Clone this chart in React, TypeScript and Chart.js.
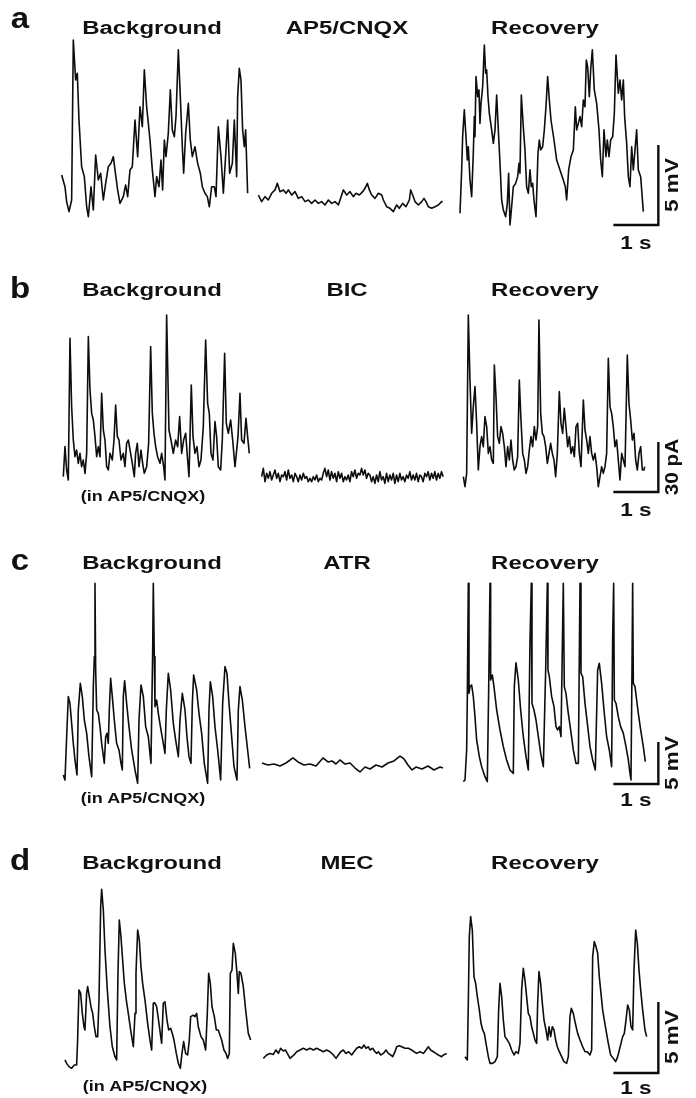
import React, { useEffect, useRef } from "react";
import { Chart, registerables } from "chart.js";
Chart.register(...registerables);

type Pt = [number, number];

// ---- Panel a (mV) ----
const bgA: Pt[] = [[0.037,2.81],[0.111,2.08],[0.148,1.15],[0.2,0.52],[0.259,1.25],[0.296,11.25],[0.348,8.75],[0.385,9.17],[0.422,6.25],[0.481,3.33],[0.541,2.71],[0.593,0.83],[0.63,0.21],[0.689,2.08],[0.741,0.63],[0.793,4.06],[0.852,2.5],[0.904,2.92],[0.963,1.25],[1.015,2.29],[1.074,3.33],[1.133,3.54],[1.185,3.96],[1.222,3.13],[1.281,1.88],[1.333,1.04],[1.407,1.46],[1.459,2.19],[1.504,1.46],[1.556,3.13],[1.607,3.33],[1.667,6.25],[1.726,3.96],[1.778,7.08],[1.83,5.83],[1.874,9.38],[1.926,7.08],[2.0,5.0],[2.052,3.13],[2.111,1.46],[2.148,2.71],[2.2,2.08],[2.244,3.75],[2.281,1.88],[2.319,5.0],[2.356,3.96],[2.407,5.42],[2.452,8.13],[2.496,5.63],[2.541,5.21],[2.578,6.46],[2.63,10.63],[2.674,7.71],[2.719,4.58],[2.748,2.92],[2.793,5.42],[2.852,7.29],[2.896,5.0],[2.941,3.96],[3.0,4.58],[3.059,3.54],[3.119,2.92],[3.163,2.08],[3.222,1.67],[3.274,1.46],[3.319,0.83],[3.37,2.08],[3.43,2.08],[3.467,1.46],[3.519,5.83],[3.578,3.96],[3.63,1.67],[3.689,4.38],[3.726,6.25],[3.77,2.92],[3.83,3.54],[3.874,6.25],[3.926,2.71],[3.948,7.71],[3.985,9.48],[4.022,8.75],[4.059,5.63],[4.096,4.58],[4.126,5.63],[4.17,1.67]];
const ap5A: Pt[] = [[0,1.56],[0.074,1.15],[0.148,1.46],[0.222,1.25],[0.296,1.67],[0.37,1.88],[0.422,2.29],[0.481,1.77],[0.556,1.88],[0.615,1.67],[0.667,1.88],[0.741,1.56],[0.815,1.77],[0.889,1.35],[0.963,1.46],[1.037,1.15],[1.111,1.25],[1.185,1.04],[1.259,1.25],[1.333,1.04],[1.407,1.15],[1.481,0.94],[1.556,1.25],[1.63,1.04],[1.704,1.15],[1.778,0.94],[1.852,1.56],[1.889,1.88],[1.963,1.56],[2.037,1.77],[2.111,1.46],[2.17,1.67],[2.244,1.56],[2.319,1.77],[2.37,1.98],[2.422,2.29],[2.467,1.88],[2.519,1.56],[2.593,1.35],[2.667,1.67],[2.741,1.56],[2.778,1.25],[2.852,0.83],[2.926,0.73],[3.0,0.52],[3.074,0.94],[3.133,0.73],[3.207,1.04],[3.281,0.83],[3.356,1.25],[3.385,1.88],[3.43,1.56],[3.481,1.15],[3.556,0.94],[3.63,1.15],[3.681,1.35],[3.726,1.15],[3.778,0.83],[3.852,0.73],[3.926,0.83],[4.0,0.94],[4.074,1.15],[4.096,1.15]];
const recA: Pt[] = [[0,0.42],[0.037,3.13],[0.059,5.21],[0.096,6.88],[0.133,5.21],[0.163,3.75],[0.185,4.58],[0.222,2.5],[0.259,1.46],[0.296,4.17],[0.319,6.46],[0.333,5.21],[0.356,8.96],[0.393,7.71],[0.422,8.13],[0.444,6.04],[0.467,7.29],[0.504,8.33],[0.541,10.94],[0.57,9.17],[0.593,9.38],[0.622,7.71],[0.652,6.67],[0.704,5.63],[0.741,4.79],[0.778,5.63],[0.815,7.81],[0.852,5.63],[0.889,3.54],[0.926,1.25],[0.963,0.63],[1.015,0.21],[1.052,1.04],[1.081,2.92],[1.111,-0.31],[1.148,0.83],[1.185,2.08],[1.237,2.29],[1.281,2.71],[1.311,3.54],[1.333,2.92],[1.363,7.81],[1.407,5.83],[1.444,4.38],[1.481,2.08],[1.519,1.67],[1.556,3.13],[1.585,2.08],[1.615,2.29],[1.644,1.25],[1.689,0.21],[1.733,4.17],[1.763,5.0],[1.793,4.38],[1.837,4.58],[1.874,5.63],[1.911,7.08],[1.948,8.96],[1.985,7.5],[2.022,6.25],[2.089,5.0],[2.148,3.75],[2.222,3.13],[2.296,2.5],[2.341,2.08],[2.37,1.25],[2.415,3.13],[2.467,3.96],[2.519,4.38],[2.563,7.08],[2.593,5.63],[2.63,6.04],[2.667,6.46],[2.704,5.83],[2.741,7.5],[2.778,7.08],[2.807,10.0],[2.837,9.58],[2.874,7.71],[2.904,9.38],[2.941,10.63],[2.985,8.13],[3.037,7.29],[3.089,5.63],[3.126,3.75],[3.163,2.71],[3.2,5.63],[3.244,3.96],[3.274,5.0],[3.311,3.96],[3.348,5.0],[3.393,5.21],[3.43,6.67],[3.467,10.31],[3.519,7.92],[3.556,8.75],[3.593,7.5],[3.63,8.75],[3.659,6.46],[3.704,4.79],[3.741,2.71],[3.778,2.08],[3.815,4.58],[3.852,3.13],[3.889,4.38],[3.926,5.63],[3.963,3.13],[4.015,2.71],[4.074,0.52]];

// ---- Panel b (pA) ----
const bgB: Pt[] = [[0.037,8],[0.074,26],[0.111,12],[0.148,6],[0.185,91],[0.222,50],[0.259,30],[0.296,20],[0.333,24],[0.37,16],[0.407,22],[0.444,14],[0.481,18],[0.519,10],[0.556,22],[0.593,92],[0.63,60],[0.667,46],[0.704,42],[0.741,32],[0.778,20],[0.815,26],[0.852,20],[0.889,58],[0.926,36],[0.963,30],[1.0,14],[1.037,12],[1.074,22],[1.126,18],[1.163,30],[1.2,51],[1.237,32],[1.274,30],[1.319,18],[1.37,22],[1.407,14],[1.444,28],[1.481,30],[1.533,22],[1.57,16],[1.615,8],[1.644,22],[1.681,28],[1.719,14],[1.763,24],[1.8,16],[1.837,10],[1.889,14],[1.933,28],[1.978,86],[2.015,46],[2.052,34],[2.089,26],[2.133,20],[2.185,16],[2.222,22],[2.267,14],[2.296,6],[2.333,105],[2.385,36],[2.43,30],[2.481,22],[2.533,30],[2.578,26],[2.622,44],[2.667,22],[2.711,30],[2.756,34],[2.8,18],[2.83,8],[2.881,63],[2.919,32],[2.963,22],[3.007,26],[3.052,14],[3.096,18],[3.148,38],[3.2,90],[3.244,52],[3.281,46],[3.319,22],[3.363,18],[3.407,41],[3.444,32],[3.481,14],[3.533,12],[3.57,30],[3.622,82],[3.659,40],[3.704,34],[3.756,42],[3.8,30],[3.852,14],[3.919,32],[3.963,58],[4.0,30],[4.052,28],[4.096,43],[4.133,32],[4.17,22]];
const BIC_DT = 0.037;
const bicB: number[] = [8,13,5,10,7,11,6,9,12,7,10,5,9,8,11,6,12,7,9,5,10,8,5,9,6,10,7,8,5,7,5,8,6,9,5,7,6,10,13,8,12,6,11,7,10,5,11,7,10,5,8,6,9,5,11,8,12,7,10,9,13,9,12,7,10,9,5,8,4,9,5,11,6,8,4,10,5,9,6,10,4,9,5,10,6,8,5,9,7,11,6,9,6,10,5,9,8,5,10,8,11,6,10,7,11,6,10,7,11,8];
const recB: Pt[] = [[0,8],[0.037,2],[0.074,10],[0.111,105],[0.148,66],[0.185,34],[0.222,50],[0.259,62],[0.296,40],[0.333,12],[0.37,26],[0.407,32],[0.444,26],[0.481,44],[0.519,38],[0.556,22],[0.593,26],[0.63,18],[0.667,16],[0.689,75],[0.726,56],[0.763,32],[0.8,28],[0.837,38],[0.874,34],[0.911,26],[0.948,14],[0.985,26],[1.022,18],[1.059,30],[1.096,18],[1.133,12],[1.17,14],[1.207,20],[1.244,66],[1.281,42],[1.319,22],[1.356,18],[1.393,10],[1.43,14],[1.467,24],[1.504,32],[1.541,26],[1.578,38],[1.615,30],[1.652,38],[1.681,102],[1.719,46],[1.756,34],[1.793,32],[1.83,26],[1.867,16],[1.904,22],[1.941,28],[1.978,22],[2.015,18],[2.052,8],[2.089,22],[2.133,59],[2.17,40],[2.207,34],[2.244,49],[2.281,38],[2.319,26],[2.356,32],[2.393,22],[2.43,26],[2.467,20],[2.504,38],[2.541,40],[2.578,22],[2.615,14],[2.667,54],[2.704,36],[2.741,30],[2.778,22],[2.815,32],[2.852,22],[2.889,18],[2.926,22],[2.963,14],[3.0,2],[3.037,8],[3.074,14],[3.111,10],[3.148,14],[3.185,22],[3.222,79],[3.259,50],[3.296,46],[3.333,38],[3.37,26],[3.407,30],[3.444,18],[3.481,6],[3.519,22],[3.556,18],[3.593,14],[3.644,81],[3.681,52],[3.719,42],[3.756,30],[3.793,34],[3.83,18],[3.867,12],[3.904,22],[3.941,26],[3.978,12],[4.015,12],[4.03,14]];

// ---- Panel c (mV) ----
const bgC: Pt[] = [[0.037,1.07],[0.074,0.48],[0.111,5.63],[0.148,10.4],[0.185,9.6],[0.222,7.22],[0.259,4.84],[0.296,2.86],[0.341,1.07],[0.37,8.81],[0.415,11.98],[0.459,10.4],[0.504,7.62],[0.556,6.03],[0.607,3.25],[0.667,0.87],[0.704,11.59],[0.726,15.16],[0.741,23.89],[0.756,13.57],[0.778,8.81],[0.815,8.41],[0.852,6.83],[0.889,4.84],[0.948,2.46],[0.978,5.63],[1.007,6.03],[1.037,4.84],[1.059,8.81],[1.089,12.58],[1.126,10.4],[1.17,7.62],[1.222,4.84],[1.274,4.05],[1.319,2.46],[1.348,1.67],[1.37,10.4],[1.4,12.3],[1.444,9.6],[1.496,6.83],[1.556,4.05],[1.63,1.67],[1.689,0.08],[1.719,7.62],[1.763,11.79],[1.815,10.4],[1.867,6.83],[1.926,5.63],[1.985,2.46],[2.022,15.56],[2.037,23.89],[2.059,15.16],[2.074,9.21],[2.111,10.0],[2.148,8.41],[2.207,6.43],[2.259,4.84],[2.296,3.65],[2.326,8.81],[2.37,13.17],[2.422,11.19],[2.481,7.22],[2.533,5.24],[2.593,3.25],[2.63,7.62],[2.681,10.79],[2.741,8.81],[2.785,5.63],[2.83,3.25],[2.874,2.46],[2.904,9.6],[2.933,12.98],[3.0,11.19],[3.052,8.41],[3.111,6.03],[3.17,2.46],[3.244,0.08],[3.274,8.81],[3.304,12.18],[3.356,10.4],[3.407,6.83],[3.467,4.05],[3.533,0.48],[3.578,9.6],[3.63,13.97],[3.674,13.17],[3.719,9.6],[3.778,5.63],[3.83,2.06],[3.896,0.48],[3.926,8.81],[3.963,11.59],[4.015,10.0],[4.074,6.83],[4.133,4.05],[4.178,1.87]];
const atrC: Pt[] = [[0,2.5],[0.133,2.26],[0.267,2.38],[0.4,2.14],[0.533,2.5],[0.689,3.1],[0.8,2.62],[0.933,2.26],[1.067,2.38],[1.2,2.14],[1.356,3.1],[1.467,2.62],[1.556,2.74],[1.644,2.38],[1.733,2.86],[1.844,2.38],[1.956,2.5],[2.067,1.9],[2.178,1.43],[2.289,2.02],[2.4,1.79],[2.533,2.26],[2.667,2.02],[2.8,2.5],[2.933,2.74],[3.067,3.33],[3.156,2.98],[3.244,2.26],[3.333,1.67],[3.422,2.02],[3.556,1.79],[3.689,2.14],[3.822,1.67],[3.956,2.02],[4.022,1.9]];
const recC: Pt[] = [[0,0.28],[0.037,0.48],[0.074,4.05],[0.089,10.4],[0.111,23.89],[0.126,10.79],[0.148,11.59],[0.185,11.79],[0.222,10.4],[0.259,8.02],[0.296,5.24],[0.356,3.25],[0.407,2.06],[0.481,0.87],[0.533,0.28],[0.563,11.19],[0.593,23.89],[0.607,12.38],[0.644,12.98],[0.681,11.59],[0.741,8.81],[0.815,6.43],[0.889,4.44],[0.963,2.86],[1.037,1.67],[1.111,1.27],[1.133,11.59],[1.17,14.44],[1.222,12.38],[1.274,8.81],[1.333,5.63],[1.393,3.25],[1.444,1.67],[1.481,16.75],[1.511,23.89],[1.526,9.6],[1.57,8.81],[1.615,7.62],[1.667,5.63],[1.719,3.65],[1.778,2.06],[1.83,13.57],[1.867,23.89],[1.881,13.57],[1.911,12.78],[1.963,10.4],[2.015,9.21],[2.059,6.83],[2.096,6.43],[2.133,6.83],[2.17,5.63],[2.193,13.57],[2.222,23.89],[2.244,11.59],[2.281,10.79],[2.333,8.41],[2.385,6.43],[2.444,4.05],[2.504,2.46],[2.556,2.46],[2.593,23.89],[2.615,13.17],[2.652,12.78],[2.704,9.6],[2.756,7.22],[2.815,4.44],[2.874,2.86],[2.933,1.67],[2.985,13.57],[3.022,14.37],[3.074,11.98],[3.126,8.81],[3.185,5.63],[3.244,4.05],[3.296,2.06],[3.319,17.54],[3.341,23.89],[3.356,10.0],[3.393,9.6],[3.444,8.02],[3.496,6.83],[3.556,6.03],[3.615,4.44],[3.667,2.86],[3.704,1.27],[3.726,0.48],[3.748,13.57],[3.763,23.89],[3.778,11.98],[3.815,11.59],[3.852,10.0],[3.889,8.41],[3.941,6.43],[4.0,4.44],[4.044,2.66]];

// ---- Panel d (mV) ----
const bgD: Pt[] = [[0,0.92],[0.037,0.68],[0.089,0.45],[0.148,0.33],[0.207,0.56],[0.259,0.56],[0.281,2.32],[0.311,5.85],[0.348,5.61],[0.385,4.2],[0.422,3.26],[0.444,3.03],[0.481,5.61],[0.504,6.08],[0.541,5.38],[0.578,4.67],[0.615,4.2],[0.652,3.26],[0.689,2.56],[0.726,2.56],[0.756,5.14],[0.793,11.71],[0.815,12.93],[0.852,11.48],[0.889,8.66],[0.941,5.85],[1.0,3.26],[1.052,1.85],[1.111,1.15],[1.148,0.92],[1.178,7.02],[1.207,10.77],[1.244,9.6],[1.281,7.96],[1.319,6.31],[1.363,5.14],[1.407,4.2],[1.459,3.03],[1.519,1.85],[1.556,4.2],[1.578,7.02],[1.615,10.07],[1.652,9.37],[1.689,7.49],[1.726,6.31],[1.778,5.14],[1.837,3.5],[1.889,2.32],[1.926,1.62],[1.963,4.91],[1.993,4.95],[2.037,4.67],[2.089,3.5],[2.148,2.09],[2.185,4.91],[2.222,5.02],[2.267,3.73],[2.304,3.03],[2.348,3.15],[2.385,2.79],[2.422,2.32],[2.474,1.38],[2.519,0.68],[2.563,0.33],[2.6,1.38],[2.637,2.21],[2.681,1.38],[2.726,1.27],[2.763,2.32],[2.793,3.97],[2.852,4.08],[2.889,3.97],[2.926,4.2],[2.963,3.26],[3.022,2.56],[3.074,2.32],[3.126,1.62],[3.163,4.2],[3.193,7.02],[3.23,6.31],[3.267,4.67],[3.319,3.97],[3.363,3.03],[3.407,3.03],[3.444,2.68],[3.481,2.32],[3.533,1.62],[3.578,1.38],[3.615,1.03],[3.652,1.38],[3.674,7.02],[3.711,7.25],[3.741,9.13],[3.785,8.43],[3.822,7.02],[3.852,5.61],[3.874,7.14],[3.911,7.02],[3.963,6.08],[4.015,4.44],[4.074,2.79],[4.126,2.32]];
const mecD: Pt[] = [[0,1.03],[0.074,1.27],[0.148,1.38],[0.222,1.31],[0.281,1.62],[0.333,1.38],[0.385,1.74],[0.444,1.55],[0.489,1.62],[0.533,1.38],[0.593,1.03],[0.637,1.15],[0.681,1.27],[0.741,1.5],[0.815,1.62],[0.889,1.74],[0.963,1.62],[1.037,1.74],[1.111,1.62],[1.185,1.74],[1.259,1.62],[1.333,1.5],[1.407,1.62],[1.481,1.5],[1.556,1.27],[1.615,1.03],[1.667,1.27],[1.719,1.5],[1.778,1.62],[1.837,1.38],[1.896,1.5],[1.963,1.27],[2.015,1.5],[2.074,1.74],[2.133,1.85],[2.185,1.74],[2.237,1.97],[2.281,1.74],[2.333,1.85],[2.37,1.62],[2.43,1.74],[2.481,1.5],[2.519,1.38],[2.556,1.5],[2.607,1.27],[2.667,1.38],[2.726,1.62],[2.778,1.38],[2.83,1.27],[2.874,1.15],[2.926,1.5],[2.963,1.85],[3.022,1.92],[3.074,1.85],[3.148,1.74],[3.222,1.74],[3.296,1.62],[3.348,1.5],[3.407,1.38],[3.481,1.5],[3.556,1.38],[3.615,1.62],[3.667,1.85],[3.719,1.62],[3.778,1.5],[3.837,1.38],[3.889,1.27],[3.963,1.15],[4.0,1.27],[4.074,1.38]];
const recD: Pt[] = [[0,1.15],[0.052,0.92],[0.074,4.91],[0.096,9.6],[0.126,11.01],[0.163,10.07],[0.2,6.78],[0.237,6.31],[0.274,5.38],[0.319,4.44],[0.356,3.5],[0.393,3.03],[0.43,2.79],[0.467,2.09],[0.519,1.15],[0.556,0.68],[0.615,0.68],[0.667,0.8],[0.719,1.15],[0.748,4.44],[0.778,6.31],[0.815,5.38],[0.852,3.73],[0.889,2.56],[0.941,2.32],[0.985,2.09],[1.037,1.62],[1.089,1.27],[1.133,1.5],[1.185,1.38],[1.222,2.09],[1.259,5.85],[1.296,7.37],[1.333,6.55],[1.37,5.38],[1.407,4.2],[1.444,3.97],[1.481,3.26],[1.519,2.79],[1.556,2.32],[1.593,2.09],[1.615,4.91],[1.644,7.14],[1.681,6.31],[1.719,4.91],[1.756,3.73],[1.8,3.03],[1.837,2.32],[1.867,3.26],[1.904,2.56],[1.941,3.26],[1.978,3.03],[2.015,2.32],[2.052,1.85],[2.096,1.5],[2.148,1.15],[2.2,0.8],[2.259,0.68],[2.296,1.15],[2.333,3.97],[2.363,4.55],[2.407,4.2],[2.452,3.5],[2.504,2.79],[2.556,2.32],[2.615,1.85],[2.667,1.5],[2.719,1.5],[2.778,1.27],[2.815,1.62],[2.837,8.19],[2.874,9.25],[2.911,8.9],[2.948,8.43],[2.985,6.78],[3.022,5.61],[3.059,4.44],[3.096,3.73],[3.133,3.03],[3.185,2.09],[3.237,1.27],[3.296,1.03],[3.348,0.8],[3.393,1.15],[3.43,1.62],[3.467,2.09],[3.504,2.56],[3.541,2.79],[3.578,3.73],[3.615,4.79],[3.652,4.44],[3.689,3.26],[3.726,3.03],[3.756,7.25],[3.793,10.07],[3.83,9.13],[3.867,7.25],[3.904,5.85],[3.948,4.44],[4.0,3.03],[4.037,2.56]];

// time at which each trace starts within its row (s)
const startsA = [1.333, 5.741, 10.222];
const startsB = [1.37, 5.815, 10.296];
const startsC = [1.37, 5.822, 10.296];
const startsD = [1.444, 5.852, 10.333];

// scale bars: 1 s and amplitude
const BAR_T0 = 13.63;
const BAR_DUR = 1;
const barAmp = [5, 30, 5, 5];
const barBase = [-0.31, -1.2, 0, 0];

const ROW_SPAN_S = 696 / 45;

type RowProps = {
  top: number; height: number; yMin: number; yMax: number;
  traces: Pt[][]; starts: number[]; amp: number; base: number;
};

function TraceRow({ top, height, yMin, yMax, traces, starts, amp, base }: RowProps) {
  const ref = useRef<HTMLCanvasElement>(null);
  useEffect(() => {
    if (!ref.current) return;
    const datasets: any[] = traces.map((pts, i) => ({
      data: pts.map(([t, v]) => ({ x: t + starts[i], y: v })),
      borderColor: "#0d0d0d",
      borderWidth: 1.6,
      pointRadius: 0,
      tension: 0,
      fill: false,
      clip: false,
      borderJoinStyle: "round",
    }));
    datasets.push({
      data: [
        { x: BAR_T0, y: base },
        { x: BAR_T0 + BAR_DUR, y: base },
        { x: BAR_T0 + BAR_DUR, y: base + amp },
      ],
      borderColor: "#0d0d0d",
      borderWidth: 2.4,
      pointRadius: 0,
      tension: 0,
      fill: false,
      clip: false,
      borderJoinStyle: "miter",
      borderCapStyle: "butt",
    });
    const chart = new Chart(ref.current, {
      type: "line",
      data: { datasets },
      options: {
        animation: false,
        responsive: false,
        maintainAspectRatio: false,
        layout: { padding: 0 },
        plugins: { legend: { display: false }, tooltip: { enabled: false } },
        scales: {
          x: { type: "linear", display: false, min: 0, max: ROW_SPAN_S },
          y: { type: "linear", display: false, min: yMin, max: yMax },
        },
      },
    });
    return () => chart.destroy();
  }, []);
  return (
    <canvas
      ref={ref}
      width={696}
      height={height}
      style={{ position: "absolute", left: 0, top, display: "block", width: 696, height }}
    />
  );
}

const FONT = '"Liberation Sans", Arial, Helvetica, sans-serif';

function Label({ x, y, text, size, sx = 1, rot = false }: { x: number; y: number; text: string; size: number; sx?: number; rot?: boolean }) {
  return (
    <div
      style={{
        position: "absolute",
        left: x,
        top: y,
        transform: `translate(-50%, -50%)${rot ? " rotate(-90deg)" : ""} scaleX(${sx})`,
        fontFamily: FONT,
        fontWeight: 700,
        fontSize: size,
        lineHeight: 1,
        whiteSpace: "nowrap",
        color: "#111",
      }}
    >
      {text}
    </div>
  );
}

const titlesMid = ["AP5/CNQX", "BIC", "ATR", "MEC"];
const panelLetters = ["a", "b", "c", "d"];
const titleY = [28, 290, 563, 863];
const letterY = [18, 288, 560, 860];

export default function App() {
  return (
    <div style={{ position: "absolute", left: 0, top: 0, width: 696, height: 1098, background: "#fff", overflow: "hidden" }}>
      <TraceRow top={30} height={230} yMin={-2.5} yMax={11.875} traces={[bgA, ap5A, recA]} starts={startsA} amp={barAmp[0]} base={barBase[0]} />
      <TraceRow top={290} height={220} yMin={-12} yMax={120} traces={[bgB, bicB.map((v, i) => [i * BIC_DT, v] as Pt), recB]} starts={startsB} amp={barAmp[1]} base={barBase[1]} />
      <TraceRow top={570} height={230} yMin={-1.905} yMax={25.476} traces={[bgC, atrC, recC]} starts={startsC} amp={barAmp[2]} base={barBase[2]} />
      <TraceRow top={860} height={230} yMin={-1.197} yMax={15.0} traces={[bgD, mecD, recD]} starts={startsD} amp={barAmp[3]} base={barBase[3]} />
      {panelLetters.map((l, i) => (
        <Label key={l} x={20} y={letterY[i]} text={l} size={30} sx={1.1} />
      ))}
      {titleY.map((y, i) => (
        <React.Fragment key={i}>
          <Label x={152} y={y} text="Background" size={18} sx={1.33} />
          <Label x={347} y={y} text={titlesMid[i]} size={18} sx={1.33} />
          <Label x={545} y={y} text="Recovery" size={18} sx={1.33} />
        </React.Fragment>
      ))}
      <Label x={143} y={495} text="(in AP5/CNQX)" size={15} sx={1.2} />
      <Label x={143} y={797} text="(in AP5/CNQX)" size={15} sx={1.2} />
      <Label x={145} y={1085} text="(in AP5/CNQX)" size={15} sx={1.2} />
      <Label x={672} y={185} text="5 mV" size={18} sx={1.25} rot />
      <Label x={672} y={467} text="30 pA" size={18} sx={1.15} rot />
      <Label x={672} y={763} text="5 mV" size={18} sx={1.25} rot />
      <Label x={672} y={1037} text="5 mV" size={18} sx={1.25} rot />
      <Label x={636} y={243} text="1 s" size={18} sx={1.25} />
      <Label x={636} y={510} text="1 s" size={18} sx={1.25} />
      <Label x={636} y={800} text="1 s" size={18} sx={1.25} />
      <Label x={636} y={1088} text="1 s" size={18} sx={1.25} />
    </div>
  );
}
